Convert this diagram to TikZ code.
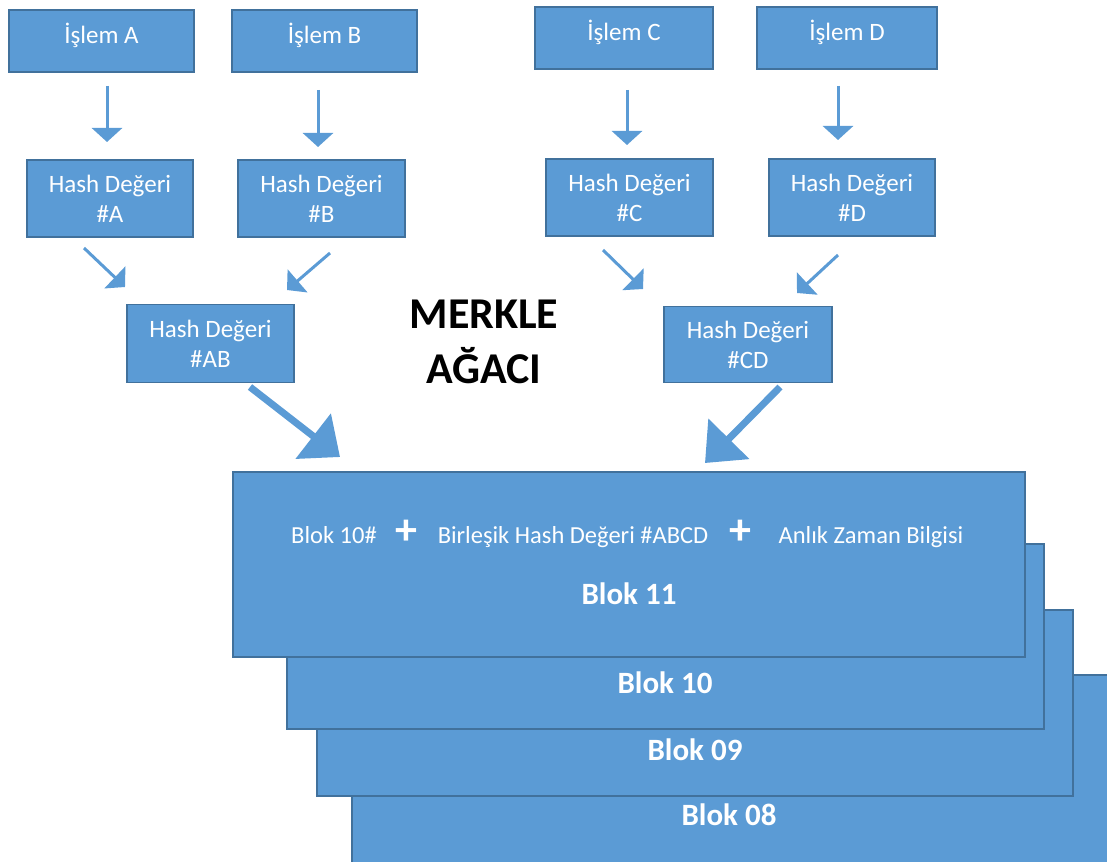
\documentclass[tikz,border=0pt]{standalone}
\usepackage{fontspec}
\setmainfont{Carlito}
\usetikzlibrary{arrows.meta,calc}
\definecolor{boxfill}{HTML}{5B9BD5}
\definecolor{boxline}{HTML}{41719C}
\definecolor{arrowblue}{HTML}{5B9BD5}
\begin{document}
\begin{tikzpicture}[x=1pt,y=-1pt,
  box/.style={draw=boxline, line width=1.5pt, fill=boxfill, inner sep=0pt,
    text=white, font=\fontsize{25}{30}\selectfont, align=center},
  onelinebox/.style={box, text height=18pt, text depth=12pt},
  blockbox/.style={draw=boxline, line width=1.5pt, fill=boxfill, inner sep=0pt},
  smalltxt/.style={text=white, inner sep=0pt, anchor=base, font=\fontsize{24.5}{30}\selectfont},
  blocktxt/.style={text=white, inner sep=0pt, anchor=base, font=\fontsize{31}{36}\selectfont\bfseries},
  plustxt/.style={text=white, inner sep=0pt, font=\fontsize{44}{44}\selectfont\bfseries},
  titletxt/.style={text=black, inner sep=0pt, anchor=base, font=\fontsize{44}{55}\selectfont\bfseries},
  thinarrow/.style={draw=arrowblue, line width=3pt, -{Triangle[width=30pt,length=14pt]}},
  bigarrow/.style={draw=arrowblue, line width=7pt, -{Triangle[width=56pt,length=34pt]}}
]
\useasboundingbox (0,0) rectangle (1107,861);
\clip (0,0) rectangle (1107,861);

% transactions
\node[onelinebox, minimum width=185pt, minimum height=62pt] (iA) at (101.5,41) {İşlem A};
\node[onelinebox, minimum width=185pt, minimum height=62pt] (iB) at (324.5,41) {İşlem B};
\node[onelinebox, minimum width=178pt, minimum height=62pt] (iC) at (624,38) {İşlem C};
\node[onelinebox, minimum width=180pt, minimum height=62pt] (iD) at (847,38) {İşlem D};

% leaf hashes
\node[box, minimum width=166pt, minimum height=77pt] (hA) at (110,198.5) {Hash Değeri\\\#A};
\node[box, minimum width=167pt, minimum height=77pt] (hB) at (321.5,198.5) {Hash Değeri\\\#B};
\node[box, minimum width=167pt, minimum height=77pt] (hC) at (629.5,197.5) {Hash Değeri\\\#C};
\node[box, minimum width=166pt, minimum height=77pt] (hD) at (852,197.5) {Hash Değeri\\\#D};

% combined hashes
\node[box, minimum width=167pt, minimum height=78pt] (hAB) at (210.5,343.5) {Hash Değeri\\\#AB};
\node[box, minimum width=168pt, minimum height=76pt] (hCD) at (748,344.5) {Hash Değeri\\\#CD};

% title
\node[titletxt] (title1) at (484,328) {MERKLE};
\node[titletxt] (title2) at (484,383) {AĞACI};

% block stack, oldest at the back
\node[blockbox, minimum width=788pt, minimum height=225pt] (b08) at (746,787.5) {};
\node[blockbox, minimum width=756pt, minimum height=186pt] (b09) at (695,703) {};
\node[blockbox, minimum width=757pt, minimum height=185pt] (b10) at (665.5,636.5) {};
\node[blockbox, minimum width=792pt, minimum height=185pt] (b11) at (629,564.5) {};

\node[blocktxt] (t08) at (729,825) {Blok 08};
\node[blocktxt] (t09) at (695,760) {Blok 09};
\node[blocktxt] (t10) at (665,693) {Blok 10};
\node[blocktxt] (t11) at (629,604) {Blok 11};

% block header contents
\node[smalltxt] (prev) at (334,543) {Blok 10\#};
\node[plustxt] (plus1) at (406,532) {+};
\node[smalltxt] (root) at (573,543) {Birleşik Hash Değeri \#ABCD};
\node[plustxt] (plus2) at (740,532) {+};
\node[smalltxt] (stamp) at (871,543) {Anlık Zaman Bilgisi};

% arrow end points
\coordinate (aAs) at (107,86);  \coordinate (aAe) at (107,142);
\coordinate (aBs) at (318,90);  \coordinate (aBe) at (318,147);
\coordinate (aCs) at (627,90);  \coordinate (aCe) at (627,145);
\coordinate (aDs) at (838,86);  \coordinate (aDe) at (838,140);
\coordinate (dAs) at (84,248);  \coordinate (dAe) at (125,287);
\coordinate (dBs) at (330,253); \coordinate (dBe) at (287,290);
\coordinate (dCs) at (603,250); \coordinate (dCe) at (643,289);
\coordinate (dDs) at (838,255); \coordinate (dDe) at (797,293);
\coordinate (gLs) at (250,387); \coordinate (gLe) at (340,457);
\coordinate (gRs) at (780,387); \coordinate (gRe) at (705,463);

\draw[thinarrow] (aAs) -- (aAe);
\draw[thinarrow] (aBs) -- (aBe);
\draw[thinarrow] (aCs) -- (aCe);
\draw[thinarrow] (aDs) -- (aDe);
\draw[thinarrow] (dAs) -- (dAe);
\draw[thinarrow] (dBs) -- (dBe);
\draw[thinarrow] (dCs) -- (dCe);
\draw[thinarrow] (dDs) -- (dDe);
\draw[bigarrow] (gLs) -- (gLe);
\draw[bigarrow] (gRs) -- (gRe);
\end{tikzpicture}
\end{document}
